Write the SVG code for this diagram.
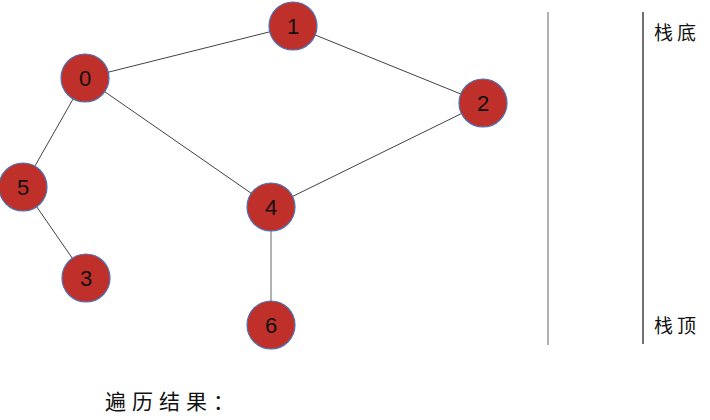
<svg xmlns="http://www.w3.org/2000/svg" width="710" height="420" viewBox="0 0 710 420">
<style>
.n circle{fill:#C0302A;stroke:#4F72B0;stroke-width:1.2}
.n text{font-family:"Liberation Sans",Arial,sans-serif;font-size:22px;fill:#111;text-anchor:middle;dominant-baseline:central}
.e{stroke:#111;stroke-width:0.8;fill:none}
.cjk{font-family:"Noto Sans CJK SC","Noto Sans CJK JP",sans-serif;font-size:19px;fill:#111;letter-spacing:4px}
</style>
<rect width="710" height="420" fill="#fff"/>
<g id="connectors">
<line class="e" x1="85" y1="78" x2="293" y2="26"/>
<line class="e" x1="293" y1="26" x2="483" y2="103"/>
<line class="e" x1="85" y1="78" x2="271" y2="207"/>
<line class="e" x1="483" y1="103" x2="271" y2="207"/>
<line class="e" x1="85" y1="78" x2="23" y2="187"/>
<line class="e" x1="23" y1="187" x2="86" y2="278"/>
<line x1="271" y1="207" x2="271" y2="325" stroke="#999" stroke-width="1.5"/>
</g>
<g id="node0" class="n"><circle cx="85" cy="78" r="24"/><text x="85" y="78">0</text></g>
<g id="node1" class="n"><circle cx="293" cy="26" r="24"/><text x="293" y="26">1</text></g>
<g id="node2" class="n"><circle cx="483" cy="103" r="24"/><text x="483" y="103">2</text></g>
<g id="node4" class="n"><circle cx="271" cy="207" r="24"/><text x="271" y="207">4</text></g>
<g id="node5" class="n"><circle cx="23" cy="187" r="24"/><text x="23" y="187">5</text></g>
<g id="node3" class="n"><circle cx="86" cy="278" r="24"/><text x="86" y="278">3</text></g>
<g id="node6" class="n"><circle cx="271" cy="325" r="24"/><text x="271" y="325">6</text></g>
<g id="stack">
<line x1="548" y1="12" x2="548" y2="345" stroke="#999" stroke-width="1.5"/>
<line x1="643" y1="12" x2="643" y2="344" stroke="#111" stroke-width="1.2"/>
<text class="cjk" x="654" y="40">栈底</text>
<text class="cjk" x="654" y="333">栈顶</text>
</g>
<text class="cjk" x="105" y="409" style="font-size:21px;letter-spacing:6px">遍历结果：</text>
</svg>
